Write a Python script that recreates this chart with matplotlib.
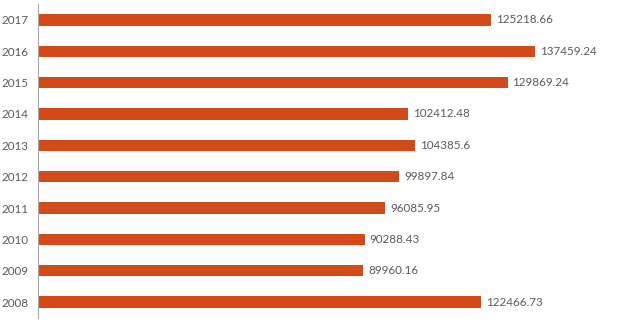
import matplotlib
matplotlib.use("Agg")
import matplotlib.pyplot as plt

years = ["2008", "2009", "2010", "2011", "2012", "2013", "2014", "2015", "2016", "2017"]
values = [122466.73, 89960.16, 90288.43, 96085.95, 99897.84, 104385.6,
          102412.48, 129869.24, 137459.24, 125218.66]
labels = ["122466.73", "89960.16", "90288.43", "96085.95", "99897.84", "104385.6",
          "102412.48", "129869.24", "137459.24", "125218.66"]

plt.rcParams["font.family"] = ["Lato", "DejaVu Sans"]

fig = plt.figure(figsize=(6.4, 3.24), dpi=100)
ax = fig.add_axes([38 / 640, 1 - 317.7 / 324, (630 - 38) / 640, 313.4 / 324])

bar_color = "#D14A18"
text_color = "#595959"
fs = 8.4
pos = list(range(len(years)))
ax.barh(pos, values, height=0.36, color=bar_color)
for p, v, t in zip(pos, values, labels):
    ax.annotate(t, (v, p), xytext=(3.5, 0), textcoords="offset points",
                va="center", ha="left", fontsize=fs, color=text_color)

ax.set_xlim(0, 163700)
ax.set_ylim(-0.5, len(years) - 0.5)
ax.set_yticks(pos)
ax.set_yticklabels(years, fontsize=fs, color=text_color)
ax.tick_params(axis="y", length=0, pad=7)
ax.set_xticks([])
for side in ["top", "right", "bottom"]:
    ax.spines[side].set_visible(False)
ax.spines["left"].set_color("#a6a6a6")
ax.spines["left"].set_linewidth(0.8)

fig.savefig("out.png", dpi=100)
